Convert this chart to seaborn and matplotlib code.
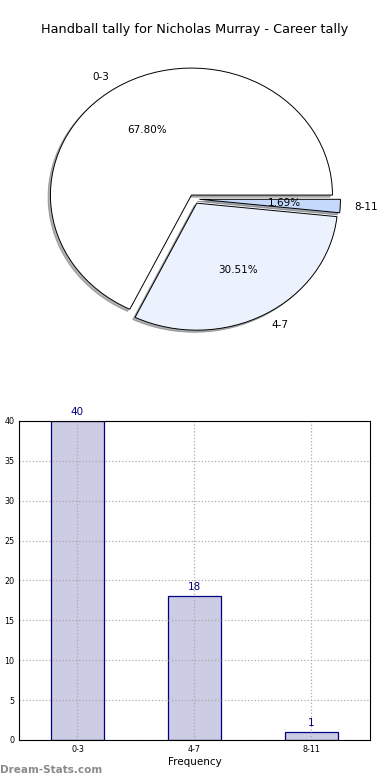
import matplotlib
matplotlib.use('Agg')
import matplotlib.pyplot as plt
import seaborn as sns

# chart data
categories = ['0-3', '4-7', '8-11']
counts = [40, 18, 1]
pie_colors = ['#ffffff', '#ecf2fd', '#c5d9fc']
title_text = 'Handball tally for Nicholas Murray - Career tally'

sns.set_style('white')
plt.rcParams['font.family'] = ['DejaVu Sans']
plt.rcParams['text.color'] = 'black'
plt.rcParams['axes.labelcolor'] = 'black'
plt.rcParams['xtick.color'] = 'black'
plt.rcParams['ytick.color'] = 'black'

fig = plt.figure(figsize=(3.9, 7.8), dpi=100)
fig.text(0.5, 1 - 30 / 780, title_text, ha='center', va='center', fontsize=9.3)

# --- pie ---
ax1 = fig.add_axes([0.046, 0.5413, 0.904, 0.407])
wedges, texts, autotexts = ax1.pie(
    counts, labels=categories, colors=pie_colors, explode=[0.037] * 3,
    autopct='%1.2f%%', shadow={'ox': -0.012, 'oy': -0.012, 'shade': 0.6},
    startangle=0, labeldistance=1.1,
    pctdistance=0.6, wedgeprops={'edgecolor': 'black', 'linewidth': 0.7},
    textprops={'fontsize': 7.5})
ax1.set_aspect('auto')
ax1.set_xlim(-1.25, 1.25)
ax1.set_ylim(-1.25, 1.25)
ax1.axis('off')

# --- bars ---
ax2 = fig.add_axes([0.0487, 0.0513, 0.9, 0.409])
sns.barplot(x=categories, y=counts, color='#ccccE4', edgecolor='#000080',
            linewidth=0.9, width=0.45, saturation=1, ax=ax2, zorder=1)
ax2.set_xlim(-0.5, 2.5)
ax2.set_ylim(0, 40)
ax2.set_yticks(range(0, 41, 5))
ax2.grid(True, linestyle=':', color='#aaaaaa', linewidth=0.9, zorder=3)
ax2.set_axisbelow(False)
for p, c in zip(ax2.patches, counts):
    ax2.text(p.get_x() + p.get_width() / 2, c + 0.5, str(c), ha='center',
             va='bottom', color='#000080', fontsize=7.5)
ax2.tick_params(axis='both', labelsize=5.8, direction='in', length=3)
ax2.set_xlabel('Frequency', fontsize=7.5, labelpad=2)
ax2.set_ylabel('')
for s in ax2.spines.values():
    s.set_color('black')
    s.set_linewidth(0.8)
    s.set_zorder(5)

fig.text(0.0, 1 - 770 / 780, 'Dream-Stats.com', ha='left', va='center',
         fontsize=7.5, color='#8a8a8a', fontweight='bold')

fig.savefig('out.png', dpi=100)
